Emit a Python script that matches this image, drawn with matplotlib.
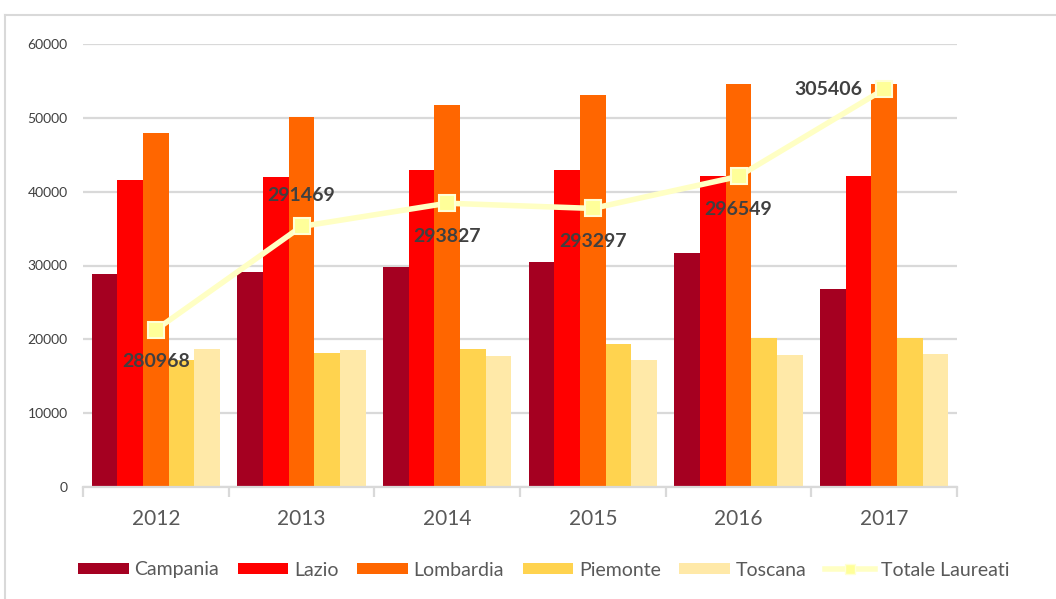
import matplotlib
matplotlib.use("Agg")
import matplotlib.pyplot as plt
import numpy as np
from matplotlib.lines import Line2D
from matplotlib.patches import Patch

years = ["2012", "2013", "2014", "2015", "2016", "2017"]
regions = ["Campania", "Lazio", "Lombardia", "Piemonte", "Toscana"]
campania = [28850, 29170, 29840, 30520, 31650, 26780]
lazio = [41540, 42030, 42890, 42890, 42170, 42170]
lombardia = [47900, 50160, 51740, 53100, 54540, 54540]
piemonte = [17200, 18190, 18740, 19410, 20140, 20140]
toscana = [18740, 18560, 17700, 17160, 17880, 18060]
totale = [280968, 291469, 293827, 293297, 296549, 305406]
totale_label = "Totale Laureati"

colors = ["#A50021", "#FF0000", "#FF6600", "#FFD34F", "#FFE9A8"]
series = [campania, lazio, lombardia, piemonte, toscana]

plt.rcParams['font.family'] = ['Lato', 'DejaVu Sans']

W, H = 1056, 599
fig = plt.figure(figsize=(W / 100, H / 100), dpi=100)
ax = fig.add_axes([83 / W, 1 - 487 / H, (957 - 83) / W, (487 - 44) / H])

x = np.arange(len(years))
bw = 0.176
for i, (vals, c) in enumerate(zip(series, colors)):
    ax.bar(x + (i - 2) * bw, vals, width=bw, color=c, zorder=2, linewidth=0)

ax.set_xlim(-0.5, len(years) - 0.5)
ax.set_ylim(0, 60000)
ax.set_yticks(np.arange(0, 60001, 10000))
ax.yaxis.grid(True, color="#D9D9D9", linewidth=1.6, zorder=0)
ax.set_axisbelow(True)
for s in ["top", "right", "left"]:
    ax.spines[s].set_visible(False)
ax.spines["bottom"].set_color("#D9D9D9")
ax.spines["bottom"].set_linewidth(1.6)
ax.tick_params(axis="y", length=0, labelsize=10, labelcolor="#404040", pad=11)
ax.set_xticks(x)
ax.set_xticklabels(years)
ax.tick_params(axis="x", length=0, labelsize=15, labelcolor="#595959", pad=16)
ax.set_xticks(np.arange(-0.5, len(years), 1.0), minor=True)
ax.tick_params(axis="x", which="minor", length=7, width=1.6, color="#D9D9D9")

ax2 = ax.twinx()
ax2.set_ylim(265000, 310000)
ax2.axis("off")
ax2.plot(x, totale, color="#FFFFC4", linewidth=4, marker="s", markersize=11,
         markerfacecolor="#FFFF99", markeredgecolor="#FFFFD6", markeredgewidth=1.5,
         zorder=5, solid_capstyle="round")

offsets = [(0, -32, "center"), (0, 31, "center"), (0, -33, "center"),
           (0, -33, "center"), (0, -33, "center"), (-22, 0, "right")]
for xi, v, (dx, dy, ha) in zip(x, totale, offsets):
    ax2.annotate(f"{v}", (xi, v), xytext=(dx, dy), textcoords="offset pixels",
                 ha=ha, va="center", fontsize=14, fontweight="bold", color="#404040",
                 zorder=6)

handles = [Patch(facecolor=c, edgecolor="none") for c in colors]
handles.append(Line2D([0], [0], color="#FFFFC4", linewidth=4, marker="s", markersize=7,
                      markerfacecolor="#FFFF99", markeredgecolor="#FFFFD6"))
labels = regions + [totale_label]
leg = fig.legend(handles, labels, loc="center", bbox_to_anchor=(544 / W, 1 - 570 / H),
                 ncol=6, frameon=False, fontsize=14, handlelength=2.6, handleheight=0.55,
                 handletextpad=0.3, columnspacing=0.95, labelcolor="#595959")

# outer chart border
fig.add_artist(Line2D([4.5 / W, 1.0], [1 - 14.5 / H, 1 - 14.5 / H], transform=fig.transFigure,
                      color="#D9D9D9", linewidth=1.5))
fig.add_artist(Line2D([4.5 / W, 4.5 / W], [0.0, 1 - 14.5 / H], transform=fig.transFigure,
                      color="#D9D9D9", linewidth=1.5))

fig.savefig("out.png", dpi=100)
